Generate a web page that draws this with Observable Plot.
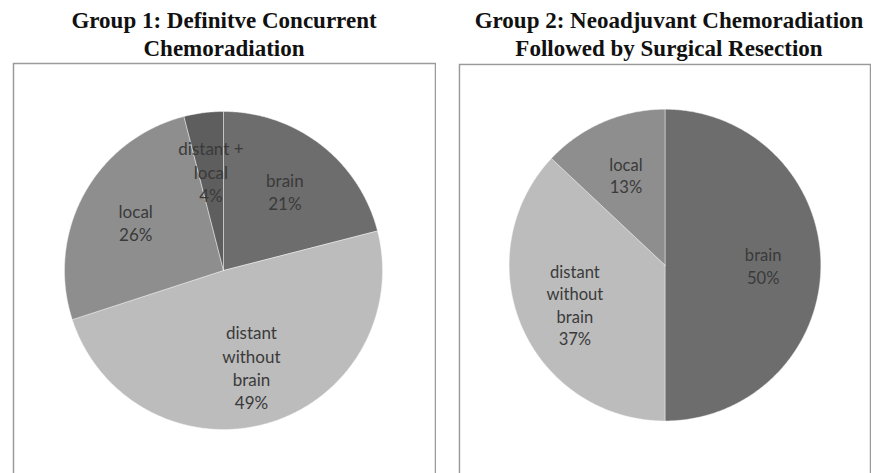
<!DOCTYPE html>
<html>
<head>
<meta charset="utf-8">
<script src="https://cdn.jsdelivr.net/npm/d3@7"></script>
<script src="https://cdn.jsdelivr.net/npm/@observablehq/plot@0.6"></script>
<style>
  html, body { margin: 0; padding: 0; background: #fff; }
  body { width: 871px; height: 473px; overflow: hidden; position: relative; }
  .title { position: absolute; font-family: "Liberation Serif", "Times New Roman", serif; font-weight: bold;
           font-size: 23px; line-height: 28px; text-align: center; color: #111; white-space: nowrap; }
  .panel { position: absolute; }
</style>
</head>
<body>
<div class="title" id="t1" style="left:12px; top:7px; width:424px;"></div>
<div class="title" id="t2" style="left:458px; top:7px; width:422px;"></div>
<div class="panel" id="p1" style="left:12px; top:62px;"></div>
<div class="panel" id="p2" style="left:458px; top:63px;"></div>
<script>
// ---- data ----
const titles = [
  "Group 1: Definitve Concurrent<br>Chemoradiation",
  "Group 2: Neoadjuvant Chemoradiation<br>Followed by Surgical Resection"
];
const categories = ["brain", "distant without brain", "local", "distant + local"];
const categoryLabels = ["brain", "distant\nwithout\nbrain", "local", "distant +\nlocal"];
const categoryColors = ["#6d6d6d", "#bcbcbc", "#8e8e8e", "#5e5e5e"];

const group1Categories = ["brain", "distant without brain", "local", "distant + local"];
const group1Values = [21, 49, 26, 4];

const group2Categories = ["brain", "distant without brain", "local"];
const group2Values = [50, 37, 13];

// ---- drawing ----
document.getElementById("t1").innerHTML = titles[0];
document.getElementById("t2").innerHTML = titles[1];

function pieChart(cats, values, opts) {
  const rows = cats.map((c, i) => ({category: c, value: values[i]}));
  const arcs = d3.pie().sort(null).value(d => d.value)(rows);
  const pts = [];
  const labels = [];
  for (const a of arcs) {
    const cat = a.data.category;
    pts.push({category: cat, x: 0, y: 0});
    const n = Math.max(2, Math.ceil((a.endAngle - a.startAngle) / (Math.PI / 360)));
    for (let k = 0; k <= n; k++) {
      const t = a.startAngle + (a.endAngle - a.startAngle) * k / n;
      pts.push({category: cat, x: Math.sin(t), y: Math.cos(t)});
    }
    pts.push({category: cat, x: 0, y: 0});
    const mid = (a.startAngle + a.endAngle) / 2;
    const f = 0.63;
    labels.push({
      x: f * Math.sin(mid), y: f * Math.cos(mid),
      text: categoryLabels[categories.indexOf(cat)] + "\n" + a.data.value + "%"
    });
  }
  const {cx, cy, r, width, height} = opts;
  return Plot.plot({
    width, height,
    margin: 1,
    style: {fontFamily: "Lato, 'Open Sans', sans-serif", background: "#fff", overflow: "hidden"},
    x: {domain: [-1, 1], range: [cx - r, cx + r], axis: null},
    y: {domain: [-1, 1], range: [cy + r, cy - r], axis: null},
    color: {type: "ordinal", domain: categories, range: categoryColors},
    marks: [
      Plot.frame({stroke: "#9a9a9a", strokeWidth: 1.5}),
      Plot.line(pts, {x: "x", y: "y", z: "category", fill: "category", stroke: "#f4f4f4", strokeWidth: 0.6, strokeOpacity: 0.8}),
      Plot.text(labels, {x: "x", y: "y", text: "text", fill: "#3a3a3a", fontSize: 17, lineHeight: 1.36})
    ]
  });
}

document.getElementById("p1").append(pieChart(group1Categories, group1Values, {cx: 211, cy: 208, r: 159, width: 424, height: 425}));
document.getElementById("p2").append(pieChart(group2Categories, group2Values, {cx: 212, cy: 207, r: 160, width: 424, height: 425}));
</script>
</body>
</html>
